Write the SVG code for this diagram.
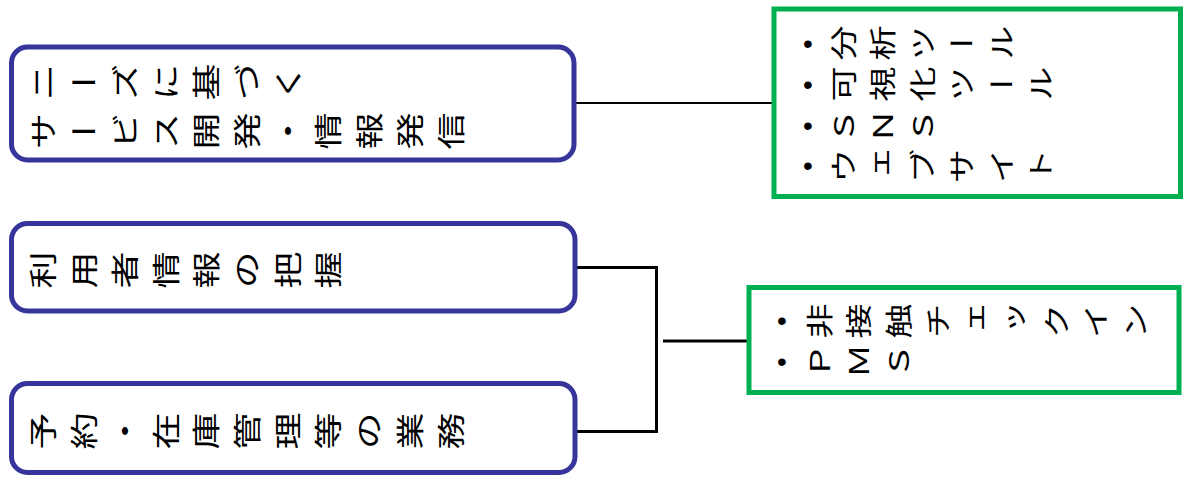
<svg xmlns="http://www.w3.org/2000/svg" width="1184" height="495" viewBox="0 0 1184 495">
  <style>
    .bg { fill: #ffffff; }
    .src { fill: #ffffff; stroke: #35359b; stroke-width: 5; }
    .dst { fill: #ffffff; stroke: #00b050; stroke-width: 5; }
    .link { fill: none; stroke: #000000; stroke-linecap: butt; }
    /* vertical text turned a quarter turn left, so glyphs lie on their side */
    .vt { font-family: "Noto Sans CJK JP", "Noto Sans CJK SC", sans-serif; writing-mode: vertical-rl; text-orientation: upright; fill: #000000; }
    .big { font-size: 37px; letter-spacing: 15.2px; }
    .mid { font-size: 35px; letter-spacing: 15.6px; }
    .dot { font-family: "Liberation Sans", sans-serif; font-size: 28px; text-anchor: middle; fill: #000000; }
  </style>
  <rect class="bg" x="0" y="0" width="1184" height="495"/>

  <!-- connectors -->
  <g id="connectors">
    <line class="link" x1="576" y1="103" x2="772" y2="103" stroke-width="2"/>
    <polyline class="link" points="576,267.5 656.5,267.5 656.5,431.5 576,431.5" stroke-width="3"/>
    <line class="link" x1="663" y1="341" x2="747" y2="341" stroke-width="3"/>
  </g>

  <!-- left-hand boxes -->
  <g id="node-needs">
    <rect class="src" x="11.5" y="47" width="562.5" height="113" rx="16"/>
    <text class="vt big" transform="translate(29 82) scale(0.78 1) rotate(-90)" x="0" y="0">ニーズに基づく</text>
    <text class="vt big" transform="translate(29 131) scale(0.78 1) rotate(-90)" x="0" y="0">サービス開発・情報発信</text>
  </g>
  <g id="node-users">
    <rect class="src" x="11.5" y="223.5" width="563.5" height="87.5" rx="16"/>
    <text class="vt big" transform="translate(29 270) scale(0.78 1) rotate(-90)" x="0" y="0">利用者情報の把握</text>
  </g>
  <g id="node-ops">
    <rect class="src" x="11.5" y="383.5" width="563.5" height="89" rx="16"/>
    <text class="vt big" transform="translate(29 431) scale(0.78 1) rotate(-90)" x="0" y="0">予約・在庫管理等の業務</text>
  </g>

  <!-- right-hand boxes -->
  <g id="node-tools">
    <rect class="dst" x="774" y="9" width="406.5" height="187.5"/>
    <text class="dot" x="808" y="53">•</text>
    <text class="dot" x="808" y="93.5">•</text>
    <text class="dot" x="808" y="134.5">•</text>
    <text class="dot" x="808" y="175">•</text>
    <text class="vt mid" transform="translate(830 43) scale(0.78 1) rotate(-90)" x="0" y="0">分析ツール</text>
    <text class="vt mid" transform="translate(830 84) scale(0.78 1) rotate(-90)" x="0" y="0">可視化ツール</text>
    <text class="vt mid" transform="translate(830 126) scale(0.78 1) rotate(-90)" x="0" y="0">ＳＮＳ</text>
    <text class="vt mid" transform="translate(830 166) scale(0.78 1) rotate(-90)" x="0" y="0">ウェブサイト</text>
  </g>
  <g id="node-systems">
    <rect class="dst" x="749" y="287.5" width="430" height="105"/>
    <text class="dot" x="782" y="330">•</text>
    <text class="dot" x="782" y="371">•</text>
    <text class="vt mid" transform="translate(806 321) scale(0.78 1) rotate(-90)" x="0" y="0">非接触チェックイン</text>
    <text class="vt mid" transform="translate(806 361) scale(0.78 1) rotate(-90)" x="0" y="0">ＰＭＳ</text>
  </g>
</svg>
